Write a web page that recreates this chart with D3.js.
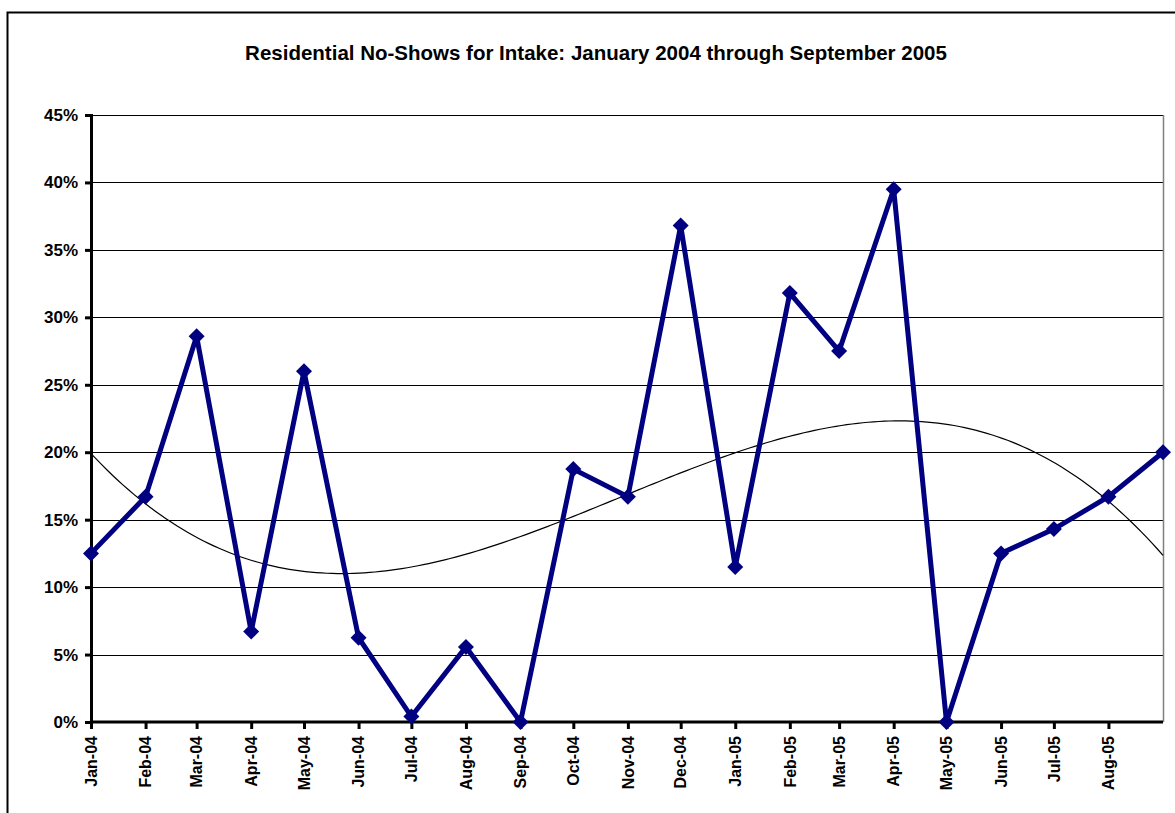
<!DOCTYPE html>
<html>
<head>
<meta charset="utf-8">
<script src="https://cdn.jsdelivr.net/npm/d3@7"></script>
<style>
  html, body { margin: 0; padding: 0; background: #fff; }
  svg { display: block; }
  text { font-family: "Liberation Sans", Arial, sans-serif; font-weight: bold; fill: #000; }
</style>
</head>
<body>
<svg id="chart" width="1175" height="813"></svg>
<script>
// ---- Data ----
const title = "Residential No-Shows for Intake: January 2004 through September 2005";
const months = ["2004-01","2004-02","2004-03","2004-04","2004-05","2004-06","2004-07","2004-08","2004-09","2004-10","2004-11","2004-12","2005-01","2005-02","2005-03","2005-04","2005-05","2005-06","2005-07","2005-08","2005-09"];
const noShowRate = [0.125, 0.167, 0.286, 0.067, 0.260, 0.0625, 0.004, 0.0556, 0.0, 0.1875, 0.167, 0.368, 0.115, 0.318, 0.275, 0.395, 0.0, 0.125, 0.143, 0.167, 0.20];
const yTicks = [0, 0.05, 0.10, 0.15, 0.20, 0.25, 0.30, 0.35, 0.40, 0.45];
const tickMonths = months; // ticks at every month; labels on all but the last
const monthAbbr = ["Jan","Feb","Mar","Apr","May","Jun","Jul","Aug","Sep","Oct","Nov","Dec"];

// ---- Setup ----
const svg = d3.select("#chart");
const parse = d3.timeParse("%Y-%m");
const dates = months.map(parse);

const pLeft = 91, pRight = 1163, pTop = 115, pBottom = 722;
const x = d3.scaleTime().domain([dates[0], dates[dates.length - 1]]).range([pLeft, pRight]);
const y = d3.scaleLinear().domain([0, 0.45]).range([pBottom, pTop]);

// Outer frame
svg.append("rect")
  .attr("x", 7.5).attr("y", 12.5)
  .attr("width", 1300).attr("height", 1000)
  .attr("fill", "none").attr("stroke", "#000").attr("stroke-width", 2);

// Title
svg.append("text")
  .attr("x", 596).attr("y", 60)
  .attr("text-anchor", "middle")
  .style("font-size", "20.5px")
  .text(title);

// Gridlines
svg.append("g")
  .selectAll("line")
  .data(yTicks.filter(d => d > 0))
  .join("line")
  .attr("x1", pLeft).attr("x2", pRight)
  .attr("y1", d => Math.round(y(d)) + 0.5)
  .attr("y2", d => Math.round(y(d)) + 0.5)
  .attr("stroke", "#000").attr("stroke-width", 1);

// Plot-area right border
svg.append("line")
  .attr("x1", pRight + 0.5).attr("x2", pRight + 0.5)
  .attr("y1", pTop).attr("y2", pBottom)
  .attr("stroke", "#808080").attr("stroke-width", 1.5);

// Y axis
const yAxis = d3.axisLeft(y)
  .tickValues(yTicks)
  .tickFormat(d => Math.round(d * 100) + "%")
  .tickSize(6).tickPadding(7);
const gy = svg.append("g").attr("transform", `translate(${pLeft},0)`).call(yAxis);
gy.select(".domain").attr("stroke", "#000").attr("stroke-width", 3);
gy.selectAll(".tick line").attr("stroke", "#000").attr("stroke-width", 3);
gy.selectAll(".tick text")
  .style("font-size", "17px")
  .style("font-family", "'Liberation Sans', Arial, sans-serif")
  .style("font-weight", "bold");

// X axis
const xAxis = d3.axisBottom(x)
  .tickValues(tickMonths.map(parse))
  .tickSize(7)
  .tickFormat("");
const gx = svg.append("g").attr("transform", `translate(0,${pBottom})`).call(xAxis);
gx.select(".domain").attr("stroke", "#000").attr("stroke-width", 3).attr("d", `M${pLeft},0H${pRight}`);
gx.selectAll(".tick line").attr("stroke", "#000").attr("stroke-width", 3);
gx.selectAll(".tick").filter((d, i) => i === tickMonths.length - 1).select("line").remove();

// X labels (rotated)
const labelDates = dates.slice(0, dates.length - 1);
svg.append("g")
  .selectAll("text")
  .data(labelDates)
  .join("text")
  .attr("transform", d => `translate(${x(d)},736) rotate(-90)`)
  .attr("text-anchor", "end")
  .attr("dy", "0.36em")
  .style("font-size", "16px")
  .text(d => monthAbbr[d.getMonth()] + "-" + String(d.getFullYear()).slice(2));

// Polynomial (cubic) trendline fitted to the data
function polyFit(xs, ys, order) {
  const n = order + 1;
  const A = Array.from({length: n}, () => new Array(n + 1).fill(0));
  for (let k = 0; k < xs.length; k++) {
    for (let i = 0; i < n; i++) {
      for (let j = 0; j < n; j++) A[i][j] += Math.pow(xs[k], i + j);
      A[i][n] += ys[k] * Math.pow(xs[k], i);
    }
  }
  for (let i = 0; i < n; i++) {
    let p = i;
    for (let r = i + 1; r < n; r++) if (Math.abs(A[r][i]) > Math.abs(A[p][i])) p = r;
    [A[i], A[p]] = [A[p], A[i]];
    for (let r = 0; r < n; r++) {
      if (r === i) continue;
      const f = A[r][i] / A[i][i];
      for (let c = i; c <= n; c++) A[r][c] -= f * A[i][c];
    }
  }
  return A.map((row, i) => row[n] / row[i]);
}
const t0 = +dates[0], t1 = +dates[dates.length - 1];
const xs = dates.map(d => (+d - t0) / (t1 - t0));
const coef = polyFit(xs, noShowRate, 3);
const evalPoly = u => coef.reduce((s, c, i) => s + c * Math.pow(u, i), 0);
const trendPts = d3.range(0, 1.0001, 0.005).map(u => [pLeft + u * (pRight - pLeft), evalPoly(u)]);
svg.append("path")
  .datum(trendPts)
  .attr("fill", "none")
  .attr("stroke", "#000")
  .attr("stroke-width", 1.2)
  .attr("d", d3.line().x(d => d[0]).y(d => y(d[1])));

// Data line
svg.append("path")
  .datum(noShowRate)
  .attr("fill", "none")
  .attr("stroke", "#000080")
  .attr("stroke-width", 5)
  .attr("stroke-linejoin", "miter")
  .attr("d", d3.line().x((d, i) => x(dates[i])).y(d => y(d)));

// Diamond markers
const mr = 8;
svg.append("g")
  .selectAll("path")
  .data(noShowRate)
  .join("path")
  .attr("transform", (d, i) => `translate(${x(dates[i])},${y(d)})`)
  .attr("d", `M0,${-mr}L${mr},0L0,${mr}L${-mr},0Z`)
  .attr("fill", "#000080");
</script>
</body>
</html>
